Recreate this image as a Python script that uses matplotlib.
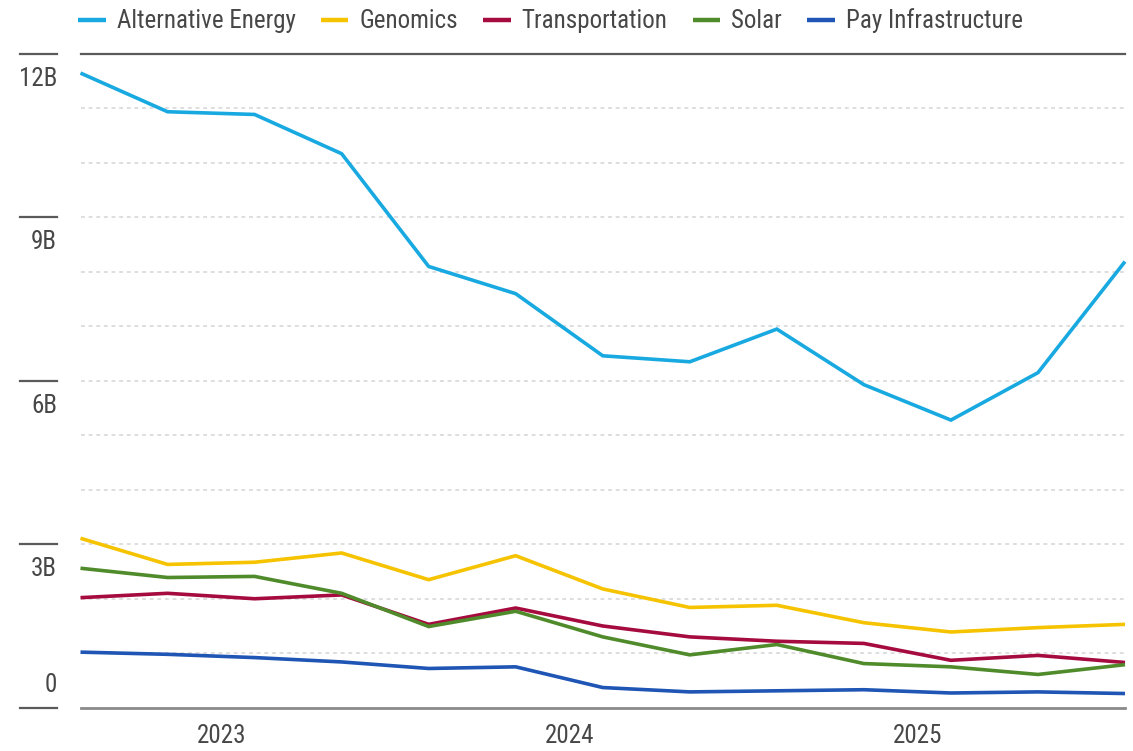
import matplotlib
matplotlib.use("Agg")
import matplotlib.pyplot as plt
from matplotlib import font_manager as fm

# ---- data (billions) ----
periods = list(range(13))
year_labels = ["2023", "2024", "2025"]
year_positions = [1.62, 5.62, 9.62]

alternative_energy = [11.65, 10.94, 10.89, 10.17, 8.10, 7.60, 6.46, 6.35, 6.95, 5.93, 5.28, 6.15, 8.19]
genomics = [3.11, 2.63, 2.67, 2.84, 2.35, 2.79, 2.18, 1.84, 1.88, 1.56, 1.39, 1.47, 1.53]
transportation = [2.02, 2.10, 2.00, 2.07, 1.53, 1.83, 1.50, 1.30, 1.22, 1.18, 0.87, 0.96, 0.83]
solar = [2.56, 2.39, 2.41, 2.10, 1.49, 1.77, 1.30, 0.97, 1.16, 0.81, 0.75, 0.61, 0.79]
pay_infrastructure = [1.02, 0.98, 0.92, 0.84, 0.72, 0.75, 0.37, 0.29, 0.31, 0.33, 0.27, 0.29, 0.26]

series_names = ["Alternative Energy", "Genomics", "Transportation", "Solar", "Pay Infrastructure"]
series_values = [alternative_energy, genomics, transportation, solar, pay_infrastructure]
series_colors = ["#19A9E1", "#F6C300", "#A50B3E", "#4F8B2B", "#1F55B5"]

y_major = [0, 3, 6, 9, 12]
y_major_labels = ["0", "3B", "6B", "9B", "12B"]
y_minor = [1, 2, 3, 4, 5, 6, 7, 8, 9, 10, 11]

# ---- font ----
available = {f.name for f in fm.fontManager.ttflist}
family = "DejaVu Sans"
for cand in ["Liberation Sans Narrow", "Roboto Condensed", "Open Sans Condensed", "Arial Narrow"]:
    if cand in available:
        family = cand
        break
plt.rcParams["font.family"] = [family, "DejaVu Sans"]
text_color = "#474747"

W, H = 1133, 751
fig = plt.figure(figsize=(W / 100, H / 100), dpi=100)
left, right, top, bottom = 80.5, 1125, 54, 707.7
ax = fig.add_axes([left / W, 1 - bottom / H, (right - left) / W, (bottom - top) / H])
ax.set_xlim(0, 12)
ax.set_ylim(0, 12)
for s in ax.spines.values():
    s.set_visible(False)

# gridlines
for v in y_minor:
    ax.axhline(v, color="#d4d4d4", lw=1.1, ls=(0, (2.5, 2.5)), zorder=1)
ax.axhline(12, color="#5a5a5a", lw=1.6, zorder=2, clip_on=False)
ax.axhline(0, color="#8a8a8a", lw=2.0, zorder=2, clip_on=False)

# series
for name, vals, col in zip(series_names, series_values, series_colors):
    ax.plot(periods, vals, color=col, lw=2.6, label=name, zorder=3, clip_on=False,
            solid_joinstyle="miter", solid_capstyle="butt")

# y labels with short rules (labels below the rule, except 0 which sits above)
ytr = ax.get_yaxis_transform()
x0 = (20 - left) / (right - left)
x1 = (57 - left) / (right - left)
for v, lab in zip(y_major, y_major_labels):
    ax.plot([x0, x1], [v, v], transform=ytr, color="#5a5a5a", lw=1.6, clip_on=False)
    dy = 16.0 if v == 0 else -18.0
    ax.annotate(lab, xy=(x1, v), xycoords=ytr, xytext=(0, dy), textcoords="offset points",
                ha="right", va="center", fontsize=18, color=text_color)
ax.set_yticks([])

# x labels
ax.set_xticks(year_positions)
ax.set_xticklabels(year_labels, fontsize=18, color=text_color)
ax.tick_params(axis="x", length=0, pad=12)

# legend
handles, labels = ax.get_legend_handles_labels()
leg = fig.legend(handles, labels, loc="center left", bbox_to_anchor=(78 / W, 1 - 21 / H),
                 ncol=5, frameon=False, fontsize=18, handlelength=1.1, handletextpad=0.45,
                 columnspacing=1.0, borderaxespad=0, borderpad=0)
for t in leg.get_texts():
    t.set_color(text_color)
for h in leg.legend_handles:
    h.set_linewidth(3.2)

fig.savefig("out.png", dpi=100)
